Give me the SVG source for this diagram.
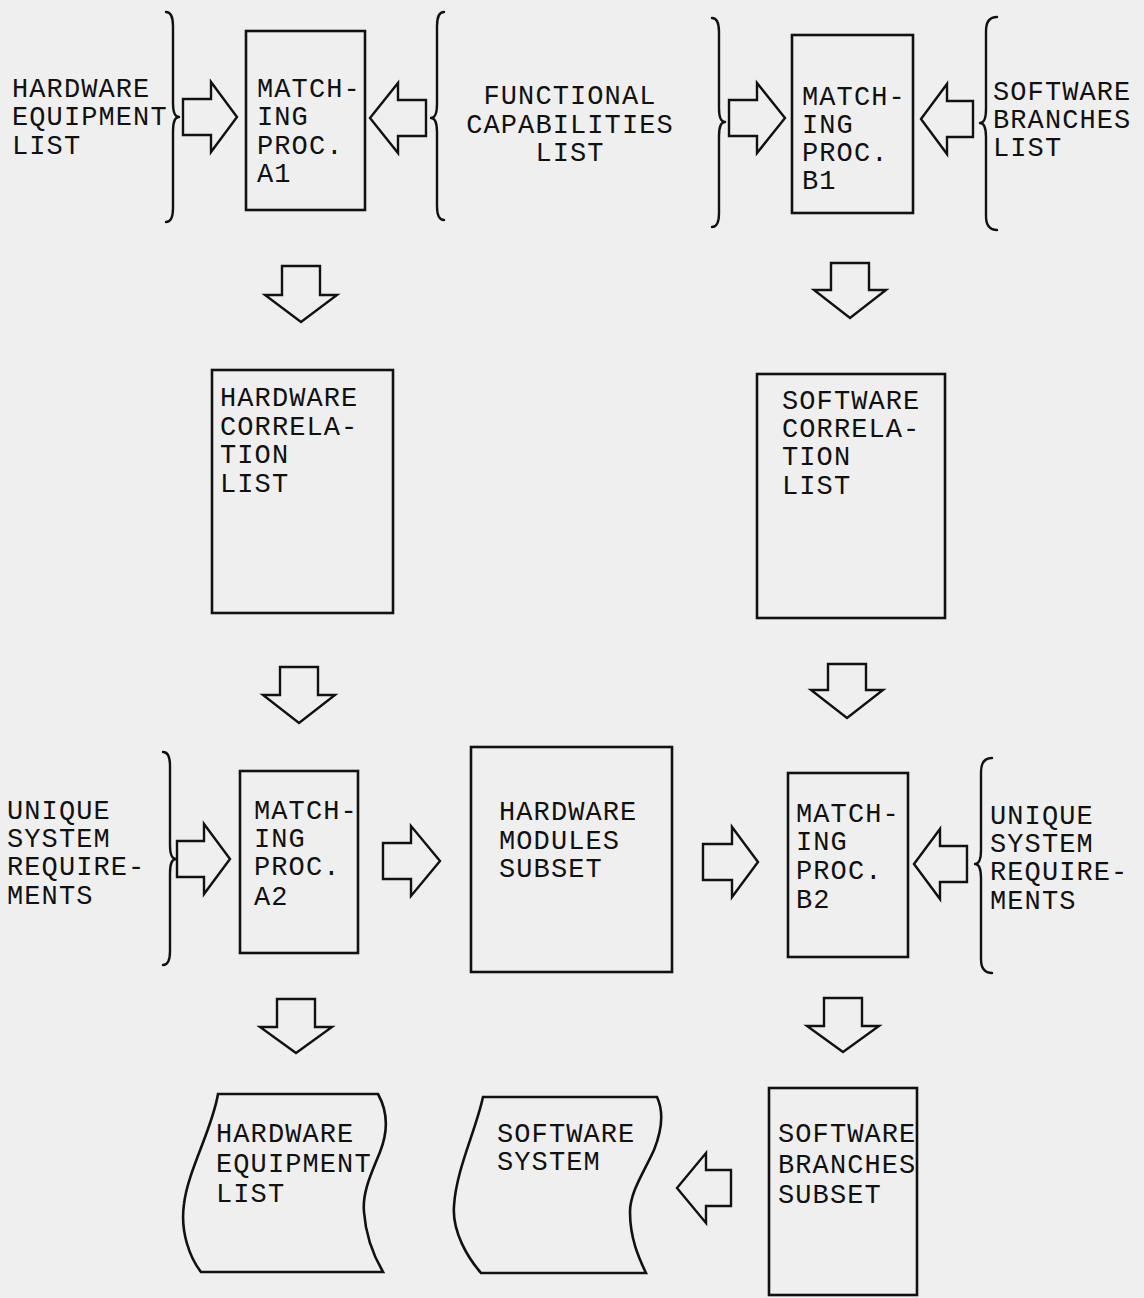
<svg xmlns="http://www.w3.org/2000/svg" width="1144" height="1298" viewBox="0 0 1144 1298">
<style>
.bg{fill:#efefef}
.box{fill:none;stroke:#111;stroke-width:2.6}
.br{fill:none;stroke:#111;stroke-width:2.4;stroke-linecap:round;stroke-linejoin:round}
.ar{fill:none;stroke:#111;stroke-width:2.4;stroke-linejoin:miter}
text{font-family:"Liberation Mono","Courier New",monospace;font-size:27px;letter-spacing:1.1px;fill:#111}
</style>
<rect class="bg" x="0" y="0" width="1144" height="1298"/>

<g id="hardware-equipment-list-input">
<path class="br" d="M166,12 Q173,12 173,26 L173,103 Q173,117 179,117 Q173,117 173,131 L173,208 Q173,222 166,222"/>
<text x="12" y="97">HARDWARE</text>
<text x="12" y="125">EQUIPMENT</text>
<text x="12" y="154">LIST</text>
</g>

<g id="matching-proc-a1">
<rect class="box" x="246" y="31" width="119" height="179"/>
<text x="257" y="97">MATCH-</text>
<text x="257" y="125">ING</text>
<text x="257" y="154">PROC.</text>
<text x="257" y="182">A1</text>
</g>

<g id="functional-capabilities-list">
<path class="br" d="M444,12 Q437,12 437,26 L437,104 Q437,118 431,118 Q437,118 437,132 L437,206 Q437,220 444,220"/>
<path class="br" d="M712,18 Q719,18 719,32 L719,108 Q719,122 725,122 Q719,122 719,136 L719,213 Q719,227 712,227"/>
<text x="570" y="104" text-anchor="middle">FUNCTIONAL</text>
<text x="570" y="133" text-anchor="middle">CAPABILITIES</text>
<text x="570" y="161" text-anchor="middle">LIST</text>
</g>

<g id="matching-proc-b1">
<rect class="box" x="792" y="35" width="121" height="178"/>
<text x="802" y="105">MATCH-</text>
<text x="802" y="133">ING</text>
<text x="802" y="161">PROC.</text>
<text x="802" y="189">B1</text>
</g>

<g id="software-branches-list">
<path class="br" d="M997,17 Q986,17 986,31 L986,109 Q986,123 980,123 Q986,123 986,137 L986,216 Q986,230 997,230"/>
<text x="993" y="100">SOFTWARE</text>
<text x="993" y="128">BRANCHES</text>
<text x="993" y="156">LIST</text>
</g>

<g id="hardware-correlation-list">
<rect class="box" x="212" y="370" width="181" height="243"/>
<text x="220" y="406">HARDWARE</text>
<text x="220" y="435">CORRELA-</text>
<text x="220" y="463">TION</text>
<text x="220" y="492">LIST</text>
</g>

<g id="software-correlation-list">
<rect class="box" x="757" y="374" width="188" height="244"/>
<text x="782" y="409">SOFTWARE</text>
<text x="782" y="437">CORRELA-</text>
<text x="782" y="465">TION</text>
<text x="782" y="494">LIST</text>
</g>

<g id="unique-system-requirements-a">
<path class="br" d="M163,752 Q170,752 170,766 L170,845 Q170,859 176,859 Q170,859 170,873 L170,951 Q170,965 163,965"/>
<text x="7" y="819">UNIQUE</text>
<text x="7" y="847">SYSTEM</text>
<text x="7" y="875">REQUIRE-</text>
<text x="7" y="904">MENTS</text>
</g>

<g id="matching-proc-a2">
<rect class="box" x="240" y="771" width="118" height="182"/>
<text x="254" y="819">MATCH-</text>
<text x="254" y="847">ING</text>
<text x="254" y="875">PROC.</text>
<text x="254" y="905">A2</text>
</g>

<g id="hardware-modules-subset">
<rect class="box" x="471" y="747" width="201" height="225"/>
<text x="499" y="820">HARDWARE</text>
<text x="499" y="849">MODULES</text>
<text x="499" y="877">SUBSET</text>
</g>

<g id="matching-proc-b2">
<rect class="box" x="788" y="773" width="120" height="184"/>
<text x="796" y="822">MATCH-</text>
<text x="796" y="850">ING</text>
<text x="796" y="879">PROC.</text>
<text x="796" y="908">B2</text>
</g>

<g id="unique-system-requirements-b">
<path class="br" d="M992,758 Q981,758 981,772 L981,850 Q981,864 975,864 Q981,864 981,878 L981,959 Q981,973 992,973"/>
<text x="990" y="824">UNIQUE</text>
<text x="990" y="852">SYSTEM</text>
<text x="990" y="880">REQUIRE-</text>
<text x="990" y="909">MENTS</text>
</g>

<g id="hardware-equipment-list-output">
<path class="box" d="M218,1094 L378,1094 C388,1112 388,1132 380,1152 C372,1172 362,1192 364,1212 C366,1240 376,1260 383,1272 L201,1272 C190,1258 180,1232 184,1204 C188,1170 212,1130 218,1094 Z"/>
<text x="216" y="1142">HARDWARE</text>
<text x="216" y="1172">EQUIPMENT</text>
<text x="216" y="1202">LIST</text>
</g>

<g id="software-system">
<path class="box" d="M483,1097 L657,1097 C664,1112 662,1130 654,1150 C644,1172 630,1192 630,1212 C630,1240 640,1260 646,1273 L481,1273 C468,1258 452,1232 454,1206 C456,1170 476,1130 483,1097 Z"/>
<text x="497" y="1142">SOFTWARE</text>
<text x="497" y="1170">SYSTEM</text>
</g>

<g id="software-branches-subset">
<rect class="box" x="769" y="1088" width="148" height="207"/>
<text x="778" y="1142">SOFTWARE</text>
<text x="778" y="1173">BRANCHES</text>
<text x="778" y="1203">SUBSET</text>
</g>

<g id="connectors">
<polygon class="ar" points="183,99 211,99 211,82 237,117 211,152 211,135 183,135"/>
<polygon class="ar" points="426,100 398,100 398,83 370,118 398,153 398,136 426,136"/>
<polygon class="ar" points="729,100 757,100 757,83 785,118 757,153 757,136 729,136"/>
<polygon class="ar" points="973,101 947,101 947,84 921,119 947,154 947,137 973,137"/>
<polygon class="ar" points="282,266 320,266 320,295 337,295 301,322 265,295 282,295"/>
<polygon class="ar" points="831,263 869,263 869,290 886,290 850,318 814,290 831,290"/>
<polygon class="ar" points="280,667 318,667 318,695 335,695 299,723 263,695 280,695"/>
<polygon class="ar" points="828,664 866,664 866,690 883,690 847,718 811,690 828,690"/>
<polygon class="ar" points="177,841 204,841 204,824 230,859 204,894 204,877 177,877"/>
<polygon class="ar" points="383,843 411,843 411,826 440,861 411,896 411,879 383,879"/>
<polygon class="ar" points="703,844 732,844 732,827 758,862 732,897 732,880 703,880"/>
<polygon class="ar" points="967,846 940,846 940,829 914,864 940,899 940,882 967,882"/>
<polygon class="ar" points="277,999 315,999 315,1027 332,1027 296,1053 260,1027 277,1027"/>
<polygon class="ar" points="824,998 862,998 862,1026 879,1026 843,1052 807,1026 824,1026"/>
<polygon class="ar" points="731,1170 706,1170 706,1153 677,1188 706,1223 706,1206 731,1206"/>
</g>
</svg>
